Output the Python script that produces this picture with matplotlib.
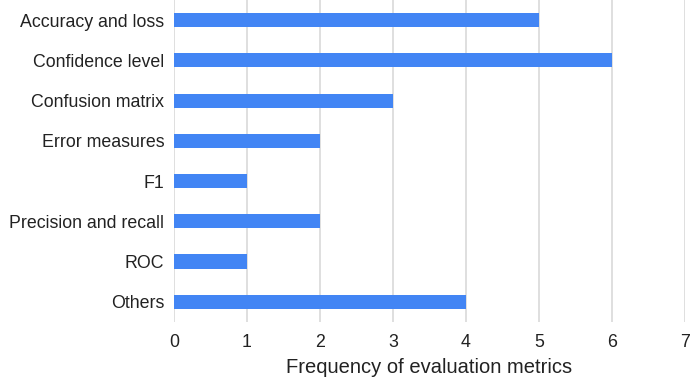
import matplotlib
matplotlib.use("Agg")
import matplotlib.pyplot as plt

categories = ["Accuracy and loss", "Confidence level", "Confusion matrix",
              "Error measures", "F1", "Precision and recall", "ROC", "Others"]
counts = [5, 6, 3, 2, 1, 2, 1, 4]
x_ticks = [0, 1, 2, 3, 4, 5, 6, 7]

plt.rcParams['font.family'] = ['Liberation Sans', 'DejaVu Sans']

fig = plt.figure(figsize=(6.9, 3.85), dpi=100)
ax = fig.add_axes([0.252, 0.164, 0.741, 0.836])

ax.barh(range(len(categories)), counts, height=0.35, color="#4285f4", zorder=3)

ax.set_xlim(0, 7)
ax.set_ylim(len(categories) - 0.5, -0.5)
ax.set_xticks(x_ticks)
ax.set_yticks(range(len(categories)))
ax.set_yticklabels(categories)
ax.grid(axis="x", color="#d9d9d9", linewidth=1.2, zorder=0)
ax.tick_params(axis="both", length=0, labelsize=12.8, colors="#222222")
ax.tick_params(axis="x", pad=9)
ax.tick_params(axis="y", pad=7)
for s in ax.spines.values():
    s.set_visible(False)
ax.set_xlabel("Frequency of evaluation metrics", fontsize=14.5, color="#222222", labelpad=5)

fig.savefig("out.png", dpi=100)
